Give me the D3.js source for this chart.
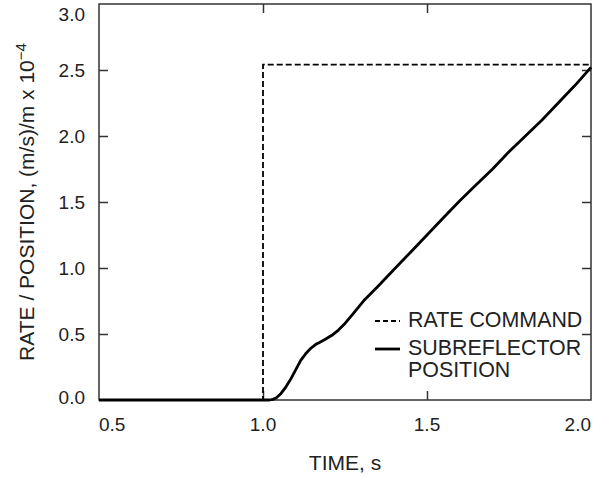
<!DOCTYPE html>
<html>
<head>
<meta charset="utf-8">
<script src="https://cdn.jsdelivr.net/npm/d3@7"></script>
<style>
  html, body { margin: 0; padding: 0; background: #fff; }
  svg { display: block; }
  text { font-family: "Liberation Sans", Arial, sans-serif; fill: #222; }
</style>
</head>
<body>
<svg id="chart" width="595" height="477"></svg>
<script>
// ---- data ----
const xTicks = [0.5, 1.0, 1.5, 2.0];
const yTicks = [0.0, 0.5, 1.0, 1.5, 2.0, 2.5, 3.0];

// Rate command (dashed): step at t = 1.0 s
const rateTime = [0.5, 1.0, 1.0, 2.0];
const rateValue = [0.0, 0.0, 2.54, 2.54];

// Subreflector position (solid)
const posTime = [0.5, 1.0, 1.02, 1.03, 1.04, 1.055, 1.07, 1.085, 1.10, 1.115, 1.13, 1.145,
  1.16, 1.175, 1.19, 1.21, 1.23, 1.25, 1.27, 1.29, 1.31, 1.35, 1.40, 1.45, 1.50,
  1.55, 1.60, 1.65, 1.70, 1.75, 1.80, 1.85, 1.90, 1.95, 2.0];
const posValue = [0.0, 0.0, 0.0, 0.005, 0.015, 0.05, 0.10, 0.16, 0.23, 0.30, 0.35, 0.39,
  0.42, 0.44, 0.46, 0.49, 0.53, 0.58, 0.64, 0.70, 0.76, 0.86, 0.99, 1.12, 1.25,
  1.38, 1.51, 1.63, 1.75, 1.88, 2.00, 2.12, 2.25, 2.38, 2.52];

const legendLabels = ["RATE COMMAND", "SUBREFLECTOR", "POSITION"];

// ---- layout ----
const svg = d3.select("#chart");
const x = d3.scaleLinear().domain([0.5, 2.0]).range([99, 591]);
const y = d3.scaleLinear().domain([0, 3.0]).range([400, 4]);
const frameColor = "#333";

// frame
svg.append("rect")
  .attr("x", x(0.5)).attr("y", y(3.0))
  .attr("width", x(2.0) - x(0.5)).attr("height", y(0) - y(3.0))
  .attr("fill", "none").attr("stroke", frameColor).attr("stroke-width", 1.5);

// axes with inward ticks, labels drawn separately
const tickLen = 9;
const innerX = xTicks.filter(d => d > 0.5 && d < 2.0);
const innerY = yTicks.filter(d => d > 0 && d < 3.0);

const gBottom = svg.append("g").attr("transform", `translate(0,${y(0)})`)
  .call(d3.axisTop(x).tickValues(innerX).tickSize(tickLen).tickFormat(""));
const gTop = svg.append("g").attr("transform", `translate(0,${y(3.0)})`)
  .call(d3.axisBottom(x).tickValues(innerX).tickSize(tickLen).tickFormat(""));
const gLeft = svg.append("g").attr("transform", `translate(${x(0.5)},0)`)
  .call(d3.axisRight(y).tickValues(innerY).tickSize(tickLen).tickFormat(""));
const gRight = svg.append("g").attr("transform", `translate(${x(2.0)},0)`)
  .call(d3.axisLeft(y).tickValues(innerY).tickSize(tickLen).tickFormat(""));
[gBottom, gTop, gLeft, gRight].forEach(g => {
  g.select(".domain").remove();
  g.selectAll("line").attr("stroke", frameColor).attr("stroke-width", 1.5);
});

// x tick labels
svg.append("g").selectAll("text").data(xTicks).join("text")
  .attr("x", d => x(d))
  .attr("y", 431)
  .attr("text-anchor", d => d === 0.5 ? "start" : d === 2.0 ? "end" : "middle")
  .attr("font-size", 19)
  .text(d => d.toFixed(1));

// y tick labels
svg.append("g").selectAll("text").data(yTicks).join("text")
  .attr("x", 85)
  .attr("y", d => d === 3.0 ? y(d) + 10 : d === 0 ? y(d) - 3 : y(d))
  .attr("dy", "0.35em")
  .attr("text-anchor", "end")
  .attr("font-size", 19)
  .text(d => d.toFixed(1));

// axis titles
svg.append("text")
  .attr("x", (x(0.5) + x(2.0)) / 2).attr("y", 470)
  .attr("text-anchor", "middle").attr("font-size", 21)
  .text("TIME, s");

const yt = svg.append("text")
  .attr("transform", `translate(34,${(y(0) + y(3.0)) / 2}) rotate(-90)`)
  .attr("text-anchor", "middle").attr("font-size", 21);
yt.append("tspan").text("RATE / POSITION, (m/s)/m x 10");
yt.append("tspan").attr("dy", -8).attr("font-size", 15).text("\u22124");

// lines
const line = d3.line().x(d => x(d[0])).y(d => y(d[1]));

svg.append("path")
  .datum(posTime.map((t, i) => [t, posValue[i]]))
  .attr("d", line)
  .attr("fill", "none").attr("stroke", "#000").attr("stroke-width", 2.8)
  .attr("stroke-linejoin", "round");

svg.append("path")
  .datum(rateTime.map((t, i) => [t, rateValue[i]]))
  .attr("d", line)
  .attr("fill", "none").attr("stroke", "#000").attr("stroke-width", 1.8)
  .attr("stroke-dasharray", "6,3");

// legend
const lg = svg.append("g");
lg.append("line").attr("x1", 375).attr("x2", 400).attr("y1", 321).attr("y2", 321)
  .attr("stroke", "#000").attr("stroke-width", 1.8).attr("stroke-dasharray", "5,3");
lg.append("line").attr("x1", 375).attr("x2", 400).attr("y1", 349).attr("y2", 349)
  .attr("stroke", "#000").attr("stroke-width", 2.8);
lg.selectAll("text").data(legendLabels).join("text")
  .attr("x", 408)
  .attr("y", (d, i) => [327, 355, 377][i])
  .attr("font-size", 21.4)
  .text(d => d);
</script>
</body>
</html>
